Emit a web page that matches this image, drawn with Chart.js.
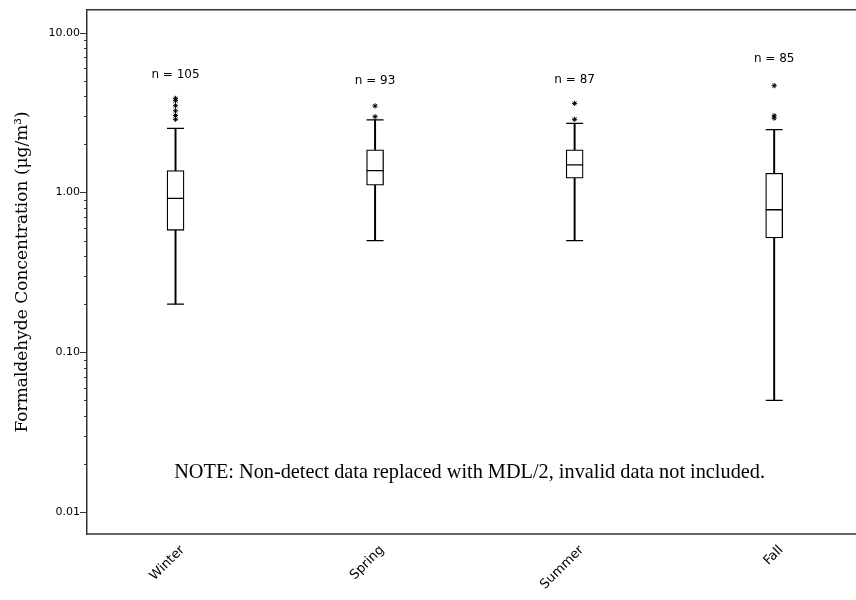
<!DOCTYPE html>
<html>
<head>
<meta charset="utf-8">
<title>Formaldehyde by season</title>
<script src="https://cdn.jsdelivr.net/npm/chart.js@4.4.1/dist/chart.umd.min.js"></script>
<style>
body { margin: 0; background: #fff; }
#wrap { width: 856px; height: 600px; }
</style>
</head>
<body>
<div id="wrap"><canvas id="box" width="856" height="600"></canvas></div>
<script>
// values (ug/m3)
const seasons = ['Winter', 'Spring', 'Summer', 'Fall'];
const counts = [105, 93, 87, 85];
const lowWhisker = [0.20, 0.50, 0.50, 0.05];
const q1 = [0.58, 1.11, 1.23, 0.52];
const median = [0.92, 1.37, 1.49, 0.78];
const q3 = [1.37, 1.85, 1.85, 1.32];
const highWhisker = [2.52, 2.85, 2.71, 2.47];
const outliers = [
  [3.88, 3.75, 3.49, 3.24, 3.03, 2.87],
  [3.48, 2.98],
  [3.61, 2.87],
  [4.66, 3.02, 2.92]
];
const nLabelAt = [5.46, 4.96, 5.08, 6.81];
const yMajor = [0.01, 0.1, 1, 10];
const note = 'NOTE: Non-detect data replaced with MDL/2, invalid data not included.';

const ink = '#000';
const frame = '#333';

// minor ticks 2..9 of every decade, plus the major ones
var yAll = [];
yMajor.forEach(function (d) {
  yAll.push(d);
  if (d < 10) for (var k = 2; k <= 9; k++) yAll.push(+(d * k).toPrecision(2));
});

const xs = seasons.map(function (s, i) { return i + 1; });

const extras = {
  id: 'extras',
  afterDraw(chart) {
    const ctx = chart.ctx, a = chart.chartArea;
    const x = chart.scales.x, y = chart.scales.y;
    ctx.save();
    // frame runs off the right edge, like the original
    ctx.strokeStyle = frame;
    ctx.lineWidth = 1.5;
    ctx.beginPath();
    ctx.moveTo(a.left, a.top);
    ctx.lineTo(chart.width, a.top);
    ctx.moveTo(a.left, a.bottom);
    ctx.lineTo(chart.width, a.bottom);
    ctx.stroke();

    // tick marks on the log axis
    ctx.lineWidth = 1;
    y.ticks.forEach(function (t) {
      var py = Math.round(y.getPixelForValue(t.value)) + 0.5;
      var len = yMajor.indexOf(t.value) >= 0 ? 7 : 3;
      ctx.beginPath();
      ctx.moveTo(a.left - len, py);
      ctx.lineTo(a.left, py);
      ctx.stroke();
    });

    ctx.fillStyle = ink;
    ctx.font = '12px "DejaVu Sans"';
    ctx.textAlign = 'center';
    ctx.textBaseline = 'middle';
    counts.forEach(function (n, i) {
      ctx.fillText('n = ' + n, x.getPixelForValue(xs[i]), y.getPixelForValue(nLabelAt[i]));
    });

    // season names, turned 45 degrees
    ctx.font = '13px "DejaVu Sans"';
    ctx.textAlign = 'right';
    seasons.forEach(function (s, i) {
      ctx.save();
      ctx.translate(x.getPixelForValue(xs[i]) + 7, a.bottom + 14);
      ctx.rotate(-Math.PI / 4);
      ctx.fillText(s, 0, 0);
      ctx.restore();
    });

    ctx.font = '20.3px "Liberation Serif"';
    ctx.textAlign = 'center';
    ctx.fillText(note, (a.left + a.right) / 2 + 3, a.bottom - 61);
    ctx.restore();
  }
};

new Chart('box', {
  type: 'bar',
  data: {
    datasets: [
      {
        label: 'whisker',
        data: xs.map(function (v, i) { return {x: v, y: [lowWhisker[i], highWhisker[i]]}; }),
        backgroundColor: ink,
        barThickness: 1.3,
        grouped: false,
        order: 3
      },
      {
        label: 'box',
        data: xs.map(function (v, i) { return {x: v, y: [q1[i], q3[i]]}; }),
        backgroundColor: '#fff',
        borderColor: ink,
        borderWidth: 1.3,
        borderSkipped: false,
        barThickness: 17,
        grouped: false,
        order: 2
      },
      {
        type: 'scatter',
        label: 'caps',
        data: xs.map(function (v, i) { return {x: v, y: lowWhisker[i]}; })
          .concat(xs.map(function (v, i) { return {x: v, y: highWhisker[i]}; })),
        pointStyle: 'line',
        radius: 8.5,
        borderColor: ink,
        borderWidth: 1.3,
        order: 1
      },
      {
        type: 'scatter',
        label: 'median',
        data: xs.map(function (v, i) { return {x: v, y: median[i]}; }),
        pointStyle: 'line',
        radius: 8.5,
        borderColor: ink,
        borderWidth: 1.3,
        order: 1
      },
      {
        type: 'scatter',
        label: 'outliers',
        data: [].concat.apply([], outliers.map(function (list, i) {
          return list.map(function (v) { return {x: xs[i], y: v}; });
        })),
        pointStyle: 'star',
        radius: 2.6,
        borderColor: ink,
        borderWidth: 1,
        order: 0
      }
    ]
  },
  options: {
    responsive: false,
    animation: false,
    layout: {padding: {top: 9, right: 0, left: 0, bottom: 0}},
    plugins: {legend: {display: false}, tooltip: {enabled: false}},
    scales: {
      x: {
        type: 'linear',
        offset: false,
        min: 0.5564,
        max: 4.3609,
        afterBuildTicks: function (s) { s.ticks = xs.map(function (v) { return {value: v}; }); },
        afterFit: function (s) { s.height = 66; },
        grid: {display: false, drawTicks: false},
        border: {display: false},
        ticks: {display: false}
      },
      y: {
        type: 'logarithmic',
        min: 0.0073,
        max: 13.9,
        afterBuildTicks: function (s) { s.ticks = yAll.map(function (v) { return {value: v}; }); },
        afterFit: function (s) { s.width = 87; s.paddingTop = 0; s.paddingBottom = 0; },
        grid: {display: false, drawTicks: false},
        border: {display: true, color: frame, width: 1.5},
        title: {
          display: true,
          text: 'Formaldehyde Concentration (μg/m³)',
          color: ink,
          font: {family: 'DejaVu Serif', size: 17},
          padding: {top: 12, bottom: 0}
        },
        ticks: {
          autoSkip: false,
          padding: 7,
          color: ink,
          font: {family: 'DejaVu Sans', size: 11},
          callback: function (v) { return yMajor.indexOf(v) >= 0 ? v.toFixed(2) : ''; }
        }
      }
    }
  },
  plugins: [extras]
});
</script>
</body>
</html>
